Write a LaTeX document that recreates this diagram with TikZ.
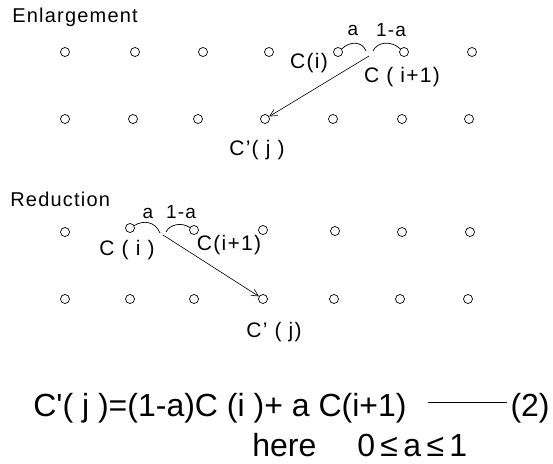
\documentclass[tikz,border=0pt]{standalone}
\usepackage{fontspec}
\setmainfont{Liberation Sans}[LetterSpace=6]
\newfontfamily\eqfont{Liberation Sans}[LetterSpace=0]
\usetikzlibrary{arrows.meta}
\begin{document}
\begin{tikzpicture}[x=1pt,y=-1pt,line width=0.7pt,
  dot/.style={circle,draw,minimum size=9pt,inner sep=0pt,line width=0.7pt},
  lbl/.style={font=\fontsize{21}{24}\selectfont,inner sep=0pt},
  sml/.style={font=\fontsize{19}{22}\selectfont,inner sep=0pt},
  head/.style={font=\fontsize{20}{24}\selectfont,anchor=west,inner sep=0pt},
  eqn/.style={font=\eqfont\fontsize{32}{36}\selectfont,inner sep=0pt},
  arr/.style={-{Straight Barb[length=7pt,width=7pt]},line width=0.6pt}]
\useasboundingbox (0,0) rectangle (553,463);
% Enlargement
\node[head] (enl) at (12,17) {Enlargement};
\foreach \x [count=\i] in {65,135,203,269,338,404,472} \node[dot] (ea\i) at (\x,52) {};
\foreach \x [count=\i] in {65,133,198,265,333,402,469} \node[dot] (eb\i) at (\x,119) {};
\coordinate (eka) at (366,51);
\coordinate (ekb) at (373,51);
\coordinate (em) at (369,56);
\draw (ea5.40) .. controls (350,41) and (362,41) .. (eka);
\draw (ekb) .. controls (377,42) and (391,40) .. (ea6.140);
\draw[arr] (em) -- (eb4);
\node[sml] (ela) at (353,30) {a};
\node[sml] (elb) at (391,30) {1-a};
\node[lbl] (eci) at (309,63) {C(i)};
\node[lbl] (ecj) at (402,77) {C ( i+1)};
\node[lbl] (ecp) at (257,150) {C'( j )};
% Reduction
\node[head] (red) at (10,199) {Reduction};
\foreach \x/\y [count=\i] in {65/232,130/228,194/230,263/230,335/231,402/232,470/232} \node[dot] (ra\i) at (\x,\y) {};
\foreach \x [count=\i] in {65,130,194,263,334,400,468} \node[dot] (rb\i) at (\x,299) {};
\coordinate (rka) at (160,233);
\coordinate (rkb) at (166,232);
\coordinate (rm) at (163,235);
\draw (ra2.30) .. controls (143,220) and (155,221) .. (rka);
\draw (rkb) .. controls (170,224) and (182,222) .. (ra3.150);
\draw[arr] (rm) -- (rb4);
\node[sml] (rla) at (148,213) {a};
\node[sml] (rlb) at (181,212) {1-a};
\node[lbl] (rci) at (127,250) {C ( i )};
\node[lbl] (rcj) at (229,245) {C(i+1)};
\node[lbl] (rcp) at (274,332) {C' ( j)};
% Equation
\node[eqn,anchor=base west] (eq) at (33,416) {C'( j )=(1-a)C (i )+ a C(i+1)};
\node[eqn,anchor=base east] (num) at (550,416) {(2)};
\draw ([shift={(21pt,14pt)}]eq.base east) -- ([shift={(-3pt,14pt)}]num.base west);
\node[eqn,anchor=base west] (here) at (252,456) {here};
\node[eqn,anchor=base west] (cond) at (357,456) {0\,≤\,a\,≤\,1};
\end{tikzpicture}
\end{document}
